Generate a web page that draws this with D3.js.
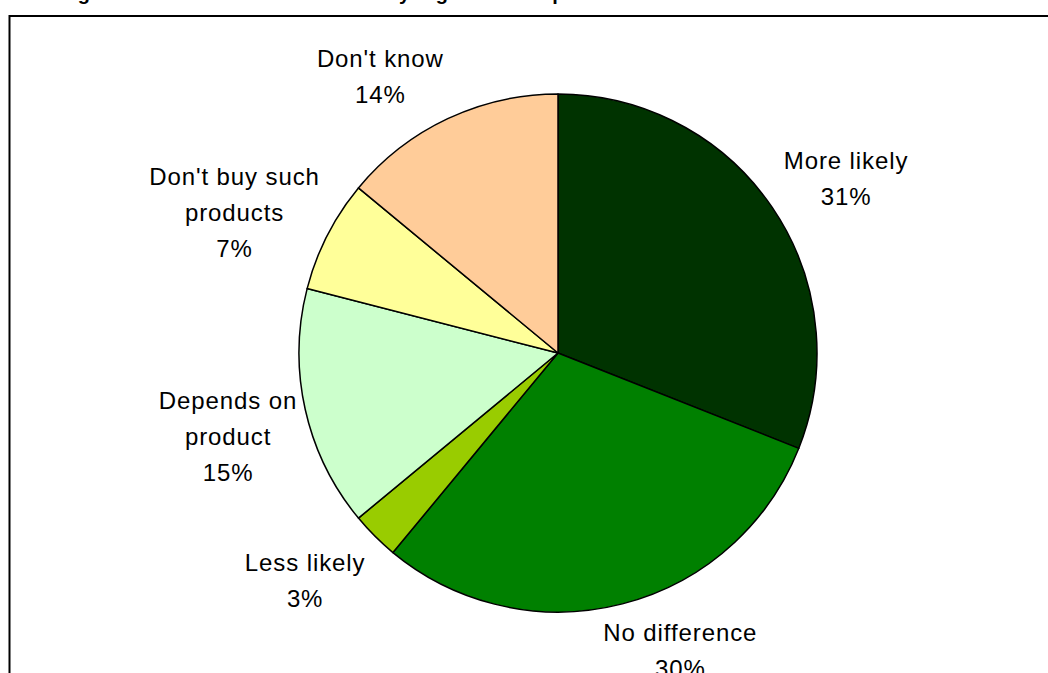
<!DOCTYPE html>
<html>
<head>
<meta charset="utf-8">
<script src="https://cdn.jsdelivr.net/npm/d3@7"></script>
<style>
  html, body { margin: 0; padding: 0; background: #fff; }
  svg { display: block; }
  text { font-family: Arial, "Liberation Sans", sans-serif; }
</style>
</head>
<body>
<svg id="chart" width="1048" height="673"></svg>
<script>
// ---- data ----
const categories = ["More likely", "No difference", "Less likely", "Depends on product", "Don't buy such products", "Don't know"];
const values = [31, 30, 3, 15, 7, 14];
const labelLines = [["More likely"], ["No difference"], ["Less likely"], ["Depends on", "product"], ["Don't buy such", "products"], ["Don't know"]];
const colors = ["#003300", "#008000", "#99CC00", "#CCFFCC", "#FFFF99", "#FFCC99"];
const titleText = "Figure 8: Whether it makes them buy organic home products";

// ---- layout ----
const W = 1048, H = 673;
const cx = 558, cy = 353, R = 259;
const labelR = 335;
const lineH = 36;
const labelNudge = [[11, 14], [39, -26], [-16, -9], [-3, 11], [-25, 12], [-35, 27]];

const svg = d3.select("#chart");

// title (cut off at the top of the picture: only descenders show)
svg.append("text")
  .attr("x", 60).attr("y", -0.5)
  .attr("font-size", 20).attr("font-weight", "bold")
  .attr("fill", "#000")
  .text(titleText);

// frame
svg.append("rect")
  .attr("x", 9.5).attr("y", 16)
  .attr("width", W + 20).attr("height", H + 20)
  .attr("fill", "none").attr("stroke", "#000").attr("stroke-width", 2);

const pie = d3.pie().sort(null).value(d => d)(values);
const arc = d3.arc().innerRadius(0).outerRadius(R);

const g = svg.append("g").attr("transform", `translate(${cx},${cy})`);

g.selectAll("path.slice")
  .data(pie)
  .join("path")
  .attr("class", "slice")
  .attr("d", arc)
  .attr("fill", (d, i) => colors[i])
  .attr("stroke", "#000")
  .attr("stroke-width", 1.5)
  .attr("stroke-linejoin", "round");

const total = d3.sum(values);
pie.forEach((d, i) => {
  const mid = (d.startAngle + d.endAngle) / 2;
  const lx = Math.sin(mid) * labelR + labelNudge[i][0];
  const ly = -Math.cos(mid) * labelR + labelNudge[i][1];
  const lines = labelLines[i].concat([Math.round(values[i] / total * 100) + "%"]);
  const n = lines.length;
  const t = g.append("text")
    .attr("text-anchor", "middle")
    .attr("font-size", 24)
    .attr("letter-spacing", 0.9)
    .attr("fill", "#000");
  lines.forEach((ln, j) => {
    t.append("tspan")
      .attr("x", lx)
      .attr("y", ly - (n - 1) * lineH / 2 + j * lineH + 8)
      .text(ln);
  });
});
</script>
</body>
</html>
